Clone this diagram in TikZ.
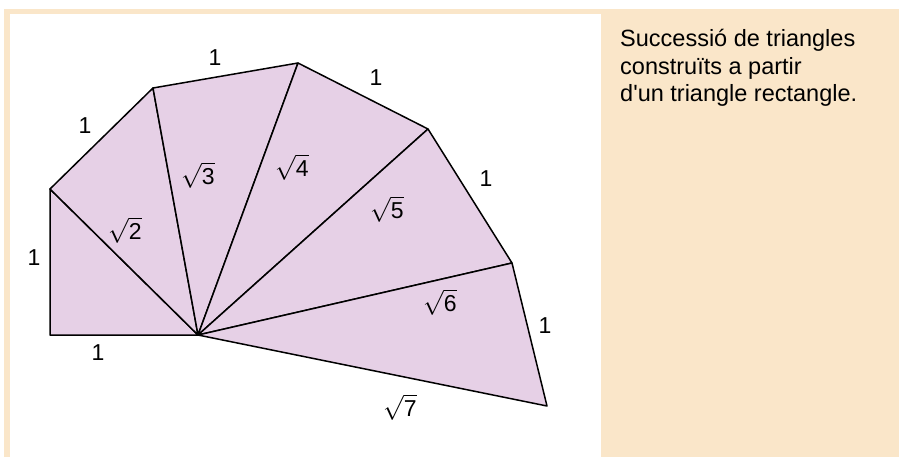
\documentclass[tikz,border=0pt]{standalone}
\usepackage{fontspec}
\setmainfont{Liberation Sans}
\usetikzlibrary{positioning}

\definecolor{panelbeige}{RGB}{250,230,201}
\definecolor{trifill}{RGB}{230,208,230}
\newcommand{\sqrtlabel}[1]{$\sqrt{\mbox{#1}}$}

\tikzset{
  edgelabel/.style={inner sep=0pt, font=\fontsize{23}{26}\selectfont},
  captionline/.style={anchor=base west, inner sep=0pt, font=\fontsize{23.5}{27.5}\selectfont}
}

\begin{document}
\begin{tikzpicture}[x=1pt, y=-1pt]
    \useasboundingbox (0,0) rectangle (899,457);
    \fill[white] (0,0) rectangle (899,457);
    \fill[panelbeige] (4,9) rectangle (899,457);
    \fill[white] (10,14) rectangle (601,457);

    % vertices of the spiral
    \coordinate (O) at (198,335);
    \coordinate (P1) at (50,335);
    \coordinate (P2) at (50,189);
    \coordinate (P3) at (153,88);
    \coordinate (P4) at (298,63);
    \coordinate (P5) at (428,129);
    \coordinate (P6) at (512,263);
    \coordinate (P7) at (547,406);

    \foreach \a/\b in {P1/P2, P2/P3, P3/P4, P4/P5, P5/P6, P6/P7}
      \filldraw[fill=trifill, line width=1.5pt, line join=round] (O) -- (\a) -- (\b) -- cycle;

    \node[edgelabel] (one0) at (98,353) {1};
    \node[edgelabel] (one1) at (34,258) {1};
    \node[edgelabel] (one2) at (85,126) {1};
    \node[edgelabel] (one3) at (215,58) {1};
    \node[edgelabel] (one4) at (376,78) {1};
    \node[edgelabel] (one5) at (486,179) {1};
    \node[edgelabel] (one6) at (545,326) {1};

    \node[edgelabel] (r2) at (125,230) {\sqrtlabel{2}};
    \node[edgelabel] (r3) at (198,175) {\sqrtlabel{3}};
    \node[edgelabel] (r4) at (292,167) {\sqrtlabel{4}};
    \node[edgelabel] (r5) at (387,209) {\sqrtlabel{5}};
    \node[edgelabel] (r6) at (440,302) {\sqrtlabel{6}};
    \node[edgelabel] (r7) at (400,407) {\sqrtlabel{7}};

    \node[captionline] (cap1) at (620,47) {Successió de triangles};
    \node[captionline] (cap2) at (620,74.5) {construïts a partir};
    \node[captionline] (cap3) at (620,102) {d\textquotesingle un triangle rectangle.};
\end{tikzpicture}
\end{document}
